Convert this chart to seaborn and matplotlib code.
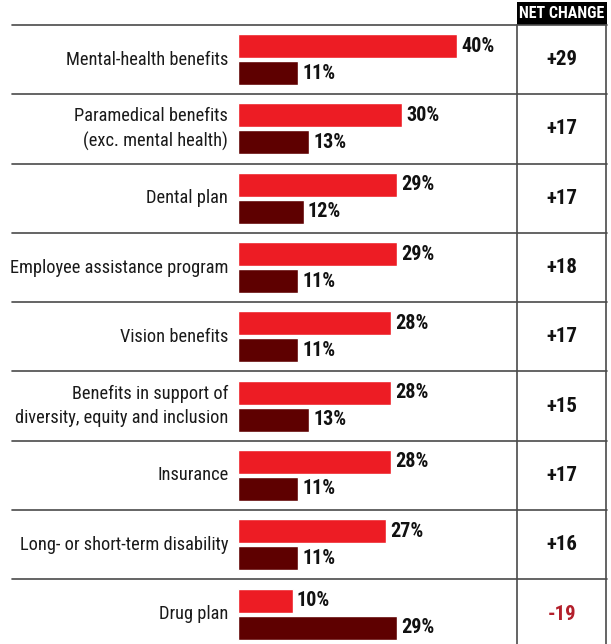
import matplotlib
matplotlib.use("Agg")
import matplotlib.pyplot as plt
from matplotlib import font_manager
from matplotlib.patches import Rectangle
from matplotlib.transforms import blended_transform_factory
import numpy as np
import pandas as pd
import seaborn as sns

# Benefit categories and the share of respondents in each period
categories = [
    "Mental-health benefits",
    "Paramedical benefits\n(exc. mental health)",
    "Dental plan",
    "Employee assistance program",
    "Vision benefits",
    "Benefits in support of\ndiversity, equity and inclusion",
    "Insurance",
    "Long- or short-term disability",
    "Drug plan",
]
share_current = [40, 30, 29, 29, 28, 28, 28, 27, 10]
share_previous = [11, 13, 12, 11, 11, 13, 11, 11, 29]
periods = ["Current", "Previous"]

RED = "#ED1C24"
DARK = "#5E0000"
NEG = "#B31F2B"
RULE = "#4a4a4a"

sns.set_theme(style="white")

# prefer a condensed face when one is installed
entries = font_manager.fontManager.ttflist
names = {f.name for f in entries}
family = "DejaVu Sans"
stretch = "normal"
for cand in ["Roboto Condensed", "Liberation Sans Narrow", "Open Sans Condensed"]:
    if cand in names:
        family = cand
        break
else:
    if any(f.name == "DejaVu Sans" and str(f.stretch) == "condensed" for f in entries):
        stretch = "condensed"
plt.rcParams["font.family"] = [family]
plt.rcParams["font.stretch"] = stretch

W, H = 611, 644
fig = plt.figure(figsize=(W / 100, H / 100), dpi=100)
fig.patch.set_facecolor("white")

row_px = 69.3
top_px = 25
left_px, right_px = 238, 517
px_per_pct = 5.48
ax_h = row_px * len(categories)
ax = fig.add_axes([left_px / W, 1 - (top_px + ax_h) / H,
                   (right_px - left_px) / W, ax_h / H])

df = pd.DataFrame({
    "category": categories * 2,
    "share": share_current + share_previous,
    "period": [periods[0]] * len(categories) + [periods[1]] * len(categories),
})

sns.barplot(data=df, y="category", x="share", hue="period", orient="h",
            palette=[RED, DARK], saturation=1, width=0.78, gap=0.11,
            legend=False, ax=ax)

ax.set_xlim(0, (right_px - left_px) / px_per_pct)
ax.set_ylim(len(categories) - 0.5, -0.5)
ax.set_xlabel("")
ax.set_ylabel("")
ax.set_xticks([])
for s in ax.spines.values():
    s.set_visible(False)
ax.tick_params(axis="y", length=0, pad=7, labelsize=13.2)
for lab in ax.get_yticklabels():
    lab.set_color("#1a1a1a")
    lab.set_linespacing(1.4)
    lab.set_verticalalignment("center")

for cont in ax.containers:
    vals = [int(round(b.get_width())) for b in cont]
    ax.bar_label(cont, labels=[f"{v}%" for v in vals], padding=3,
                 fontsize=14.5, fontweight="bold", color="#111111")

# table rules
x_left = (12 - left_px) / (right_px - left_px)
x_right = (607 - left_px) / (right_px - left_px)
x_col = 1.0
for b in np.arange(-0.5, len(categories), 1.0):
    ax.axhline(b, xmin=x_left, xmax=x_right, color=RULE, lw=1.2, clip_on=False)
bt = blended_transform_factory(ax.transAxes, ax.transData)
for xv in (x_col, (606 - left_px) / (right_px - left_px)):
    ax.plot([xv, xv], [-0.5, len(categories) - 0.5], color=RULE, lw=1.2,
            transform=bt, clip_on=False)

# net change column
x_mid = (x_col + x_right) / 2
net = np.array(share_current) - np.array(share_previous)
for i, d in enumerate(net):
    ax.text(x_mid, i, f"{d:+d}", transform=bt, ha="center", va="center",
            fontsize=15, fontweight="bold", color="#111111" if d >= 0 else NEG)

box_h = 23 / ax_h
ax.add_patch(Rectangle((x_col, 1.0), x_right - x_col, box_h, transform=ax.transAxes,
                       facecolor="black", edgecolor="none", clip_on=False))
ax.text(x_mid, 1.0 + box_h / 2, "NET CHANGE", transform=ax.transAxes,
        ha="center", va="center", color="white", fontsize=11.5, fontweight="bold")

fig.savefig("out.png", dpi=100, facecolor="white")
